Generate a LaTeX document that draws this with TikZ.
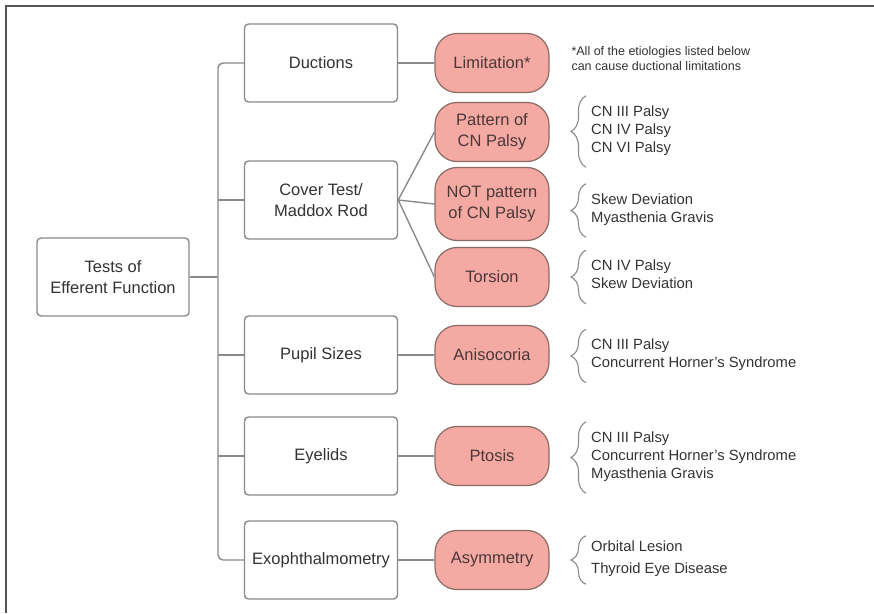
\documentclass[tikz,border=0pt]{standalone}
\usepackage{fontspec}
\setmainfont{Liberation Sans}
\usepackage{tikz}
\usetikzlibrary{decorations.pathreplacing}
\definecolor{ink}{HTML}{333333}
\definecolor{boxline}{HTML}{8A8A8A}
\definecolor{signfill}{HTML}{F4AAA3}
\definecolor{signline}{HTML}{8C6A66}
\definecolor{signtext}{HTML}{4A3838}
\definecolor{frameline}{HTML}{555555}
\tikzstyle{test} = [draw=boxline, line width=1.4pt, rounded corners=4pt, fill=white, minimum width=153pt, minimum height=78pt, align=center, text=ink, font={\fontsize{16.5}{21}\selectfont}]
\tikzstyle{sign} = [draw=signline, line width=1.2pt, fill=signfill, rounded corners=22pt, minimum width=114pt, minimum height=59pt, inner sep=2pt, align=center, text=signtext, font={\fontsize{16.5}{21}\selectfont}]
\tikzstyle{lst} = [anchor=west, align=left, text=ink, inner xsep=5pt, inner ysep=9.5pt, font={\fontsize{14.8}{18}\selectfont}, execute at begin node=\strut, execute at end node=\strut]
\tikzstyle{note} = [anchor=north west, align=left, text=ink, font={\fontsize{12.5}{15}\selectfont}]
\tikzstyle{link} = [draw=boxline, line width=1.4pt]
\tikzstyle{brc} = [draw=boxline, line width=1.1pt, decorate, decoration={brace, amplitude=15pt}]
\begin{document}
\begin{tikzpicture}[x=1pt, y=-1pt]
        \useasboundingbox (0,0) rectangle (874,613);
        \draw[frameline, line width=2pt] (6,613) -- (6,6) -- (874,6);
        \node[test, minimum width=152pt](root) at (113,277){Tests of\\Efferent Function};
        \node[test](duc) at (321,63){Ductions};
        \node[test](cov) at (321,200){Cover Test/\\Maddox Rod};
        \node[test](pup) at (321,355){Pupil Sizes};
        \node[test](eye) at (321,456){Eyelids};
        \node[test](exo) at (321,560){Exophthalmometry};
        \node[sign](lim) at (492,63){Limitation*};
        \node[sign](pat) at (492,132){Pattern of\\CN Palsy};
        \node[sign, minimum height=73pt](npat) at (492,204){NOT pattern\\of CN Palsy};
        \node[sign](tor) at (492,277){Torsion};
        \node[sign](ani) at (492,355){Anisocoria};
        \node[sign](pto) at (492,456){Ptosis};
        \node[sign](asy) at (492,560){Asymmetry};
        \node[note](ast) at (568,43){*All of the etiologies listed below\\can cause ductional limitations};
        \node[lst](l1) at (586,131.5){CN III Palsy\\CN IV Palsy\\CN VI Palsy};
        \node[lst](l2) at (586,210.5){Skew Deviation\\Myasthenia Gravis};
        \node[lst](l3) at (586,277){CN IV Palsy\\Skew Deviation};
        \node[lst](l4) at (586,356){CN III Palsy\\Concurrent Horner's Syndrome};
        \node[lst](l5) at (586,457.5){CN III Palsy\\Concurrent Horner's Syndrome\\Myasthenia Gravis};
        \node[lst, inner ysep=5pt](l6) at (586,560){Orbital Lesion\\[4pt]Thyroid Eye Disease};
        \coordinate (bus) at (218,0);
        \draw[link, rounded corners=5pt](duc.west) -- (duc.west -| bus) -- (exo.west -| bus) -- (exo.west);
        \draw[link](root.east) -- (root.east -| bus);
        \draw[link](cov.west) -- (cov.west -| bus);
        \draw[link](pup.west) -- (pup.west -| bus);
        \draw[link](eye.west) -- (eye.west -| bus);
        \draw[link](duc) -- (lim);
        \draw[link](cov.east) -- (pat.west);
        \draw[link](cov.east) -- (npat.west);
        \draw[link](cov.east) -- (tor.west);
        \draw[link](pup) -- (ani);
        \draw[link](eye) -- (pto);
        \draw[link](exo) -- (asy);
        \draw[brc](l1.south west) -- (l1.north west);
        \draw[brc](l2.south west) -- (l2.north west);
        \draw[brc](l3.south west) -- (l3.north west);
        \draw[brc](l4.south west) -- (l4.north west);
        \draw[brc](l5.south west) -- (l5.north west);
        \draw[brc](l6.south west) -- (l6.north west);
      \end{tikzpicture}
\end{document}
